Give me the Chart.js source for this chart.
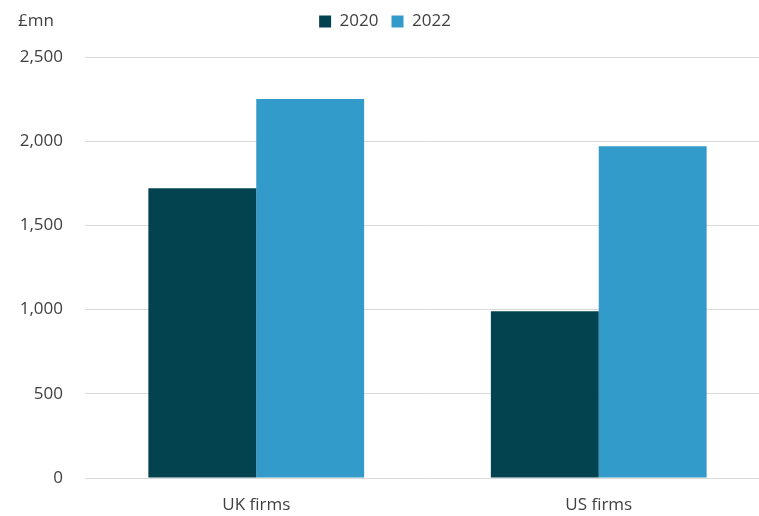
<!DOCTYPE html>
<html>
<head>
<meta charset="utf-8">
<script src="https://cdn.jsdelivr.net/npm/chart.js@4"></script>
<style>
  body { margin:0; background:#fff; overflow:hidden; }
  .wrap { position:relative; width:772px; height:516px; }
  .unit { position:absolute; left:18px; top:8px; font:17px "Open Sans", sans-serif; color:#404040; }
</style>
</head>
<body>
<div class="wrap">
  <canvas id="chart" width="772" height="516"></canvas>
  <div class="unit">£mn</div>
</div>
<script>
// values in £mn
const categories = ['UK firms', 'US firms'];
const seriesNames = ['2020', '2022'];
const values2020 = [1720, 990];
const values2022 = [2250, 1970];
const yTicks = [0, 500, 1000, 1500, 2000, 2500];

const txt = '#404040';
const font = { family: '"Open Sans", sans-serif', size: 17 };

// push the plot area down a bit under the legend
const legendGap = {
  id: 'legendGap',
  afterInit(chart) {
    const lg = chart.legend;
    if (!lg) return;
    const fit = lg.fit;
    lg.fit = function () { fit.call(this); this.height += 17; };
  }
};

new Chart(document.getElementById('chart'), {
  type: 'bar',
  data: {
    labels: categories,
    datasets: [
      { label: seriesNames[0], data: values2020, backgroundColor: '#03434f' },
      { label: seriesNames[1], data: values2022, backgroundColor: '#339bca' }
    ]
  },
  plugins: [legendGap],
  options: {
    responsive: false,
    animation: false,
    layout: { padding: { top: 0, right: 2, bottom: 0, left: 0 } },
    datasets: { bar: { categoryPercentage: 0.63, barPercentage: 1 } },
    plugins: {
      legend: {
        position: 'top',
        labels: { color: txt, font, boxWidth: 12, boxHeight: 12, padding: 13 }
      },
      tooltip: { enabled: false }
    },
    scales: {
      x: {
        afterFit: s => { s.height = 38; },
        grid: { display: false },
        border: { display: false },
        ticks: { color: txt, font, padding: 9 }
      },
      y: {
        min: 0, max: 2500,
        afterFit: s => { s.width = 85; },
        afterBuildTicks: s => { s.ticks = yTicks.map(v => ({ value: v })); },
        grid: { color: '#d9d9d9', drawTicks: false },
        border: { display: false },
        ticks: { color: txt, font, padding: 22, callback: v => v.toLocaleString('en-GB') }
      }
    }
  }
});
</script>
</body>
</html>
